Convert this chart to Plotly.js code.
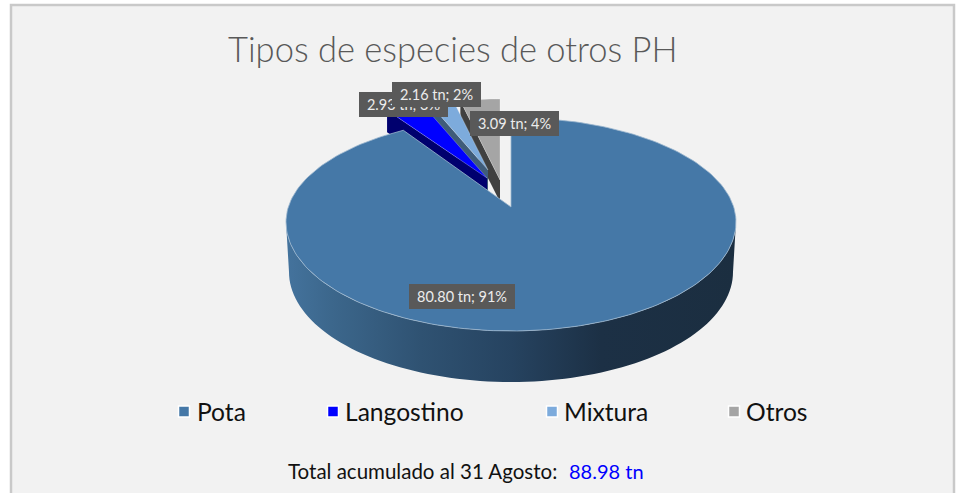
<!DOCTYPE html>
<html>
<head>
<meta charset="utf-8">
<script src="https://cdn.plot.ly/plotly-3.0.1.min.js"></script>
<style>html,body{margin:0;padding:0;background:#fff;overflow:hidden}#chart{width:957px;height:493px}</style>
</head>
<body>
<div id="chart"></div>
<script>
const categories = ['Pota', 'Langostino', 'Mixtura', 'Otros'];
const valuesTn = [80.80, 2.93, 2.16, 3.09];
const pctLabels = ['91%', '3%', '2%', '4%'];
const totalTn = 88.98;
const faceColors = ['#4578a7', '#0000ff', '#7dabdc', '#a5a5a5'];
const sideColors = ['#2b4a69', '#00006e', '#3f5c7a', '#404040'];

const FONT = 'Lato, "Open Sans", sans-serif';
const total = valuesTn.reduce((a, b) => a + b, 0);
const sweep = valuesTn.map(v => v / total * 360);
const rad = d => d * Math.PI / 180;

// exploded small slices: apex and perspective radii
const small = [null, {ax: 487, ay: 178}, {ax: 488, ay: 170}, {ax: 500, ay: 180}];
const smallRx = 183, smallRy = 81, smallDepth = 22;

const traces = [];
const xs = {xaxis: 'x', yaxis: 'y', hoverinfo: 'skip', showlegend: false};
function poly(px, py, fill, lineColor, lw) {
  traces.push(Object.assign({
    type: 'scatter', mode: lw ? 'lines' : 'none', x: px.concat(px[0]), y: py.concat(py[0]),
    fill: 'toself', fillcolor: fill, line: {color: lineColor || fill, width: lw || 0}
  }, xs));
}

// cumulative start angles, clockwise from 12 o'clock
const starts = [];
sweep.reduce((acc, s, i) => { starts[i] = acc; return acc + s; }, 0);

// small slices, back to front
[3, 2, 1].forEach(i => {
  const c = small[i], a0 = starts[i], a1 = a0 + sweep[i];
  const ox = c.ax + smallRx * Math.sin(rad(a0)), oy = c.ay - smallRy * Math.cos(rad(a0));
  poly([c.ax, c.ax, ox, ox], [c.ay, c.ay + smallDepth, oy + smallDepth, oy], sideColors[i]);
  const px = [c.ax], py = [c.ay];
  for (let k = 0; k <= 12; k++) {
    const a = a0 + (a1 - a0) * k / 12;
    px.push(c.ax + smallRx * Math.sin(rad(a)));
    py.push(c.ay - smallRy * Math.cos(rad(a)));
  }
  poly(px, py, faceColors[i], 'rgba(255,255,255,0.35)', 0.7);
});

// main slice geometry
const cx = 511, cy = 222, rx = 225, ryUp = 104.5, ryDown = 109;
const apexX = 511, apexY = 207;
const rimX = a => cx + rx * Math.sin(rad(a));
const rimY = a => cy - (Math.cos(rad(a)) > 0 ? ryUp : ryDown) * Math.cos(rad(a));

// side wall
const wallX = [], wallY = [];
for (let a = 90; a <= 270; a += 2) { wallX.push(rimX(a)); wallY.push(rimY(a)); }
for (let a = 270; a >= 90; a -= 2) {
  wallX.push(cx + 222 * Math.sin(rad(a)));
  wallY.push(272 - 110 * Math.cos(rad(a)));
}
traces.push(Object.assign({
  type: 'scatter', mode: 'none', x: wallX.concat(wallX[0]), y: wallY.concat(wallY[0]),
  fill: 'toself',
  fillgradient: {
    type: 'horizontal', start: 286, stop: 736,
    colorscale: [[0, '#44739d'], [0.1, '#3c678c'], [0.3, '#2f5272'], [0.5, '#264360'], [0.7, '#1c3045'], [1, '#1b2e40']]
  }
}, xs));

// Pota top face
const gapDeg = 4.5;
const potaEnd = sweep[0] + gapDeg;
const pX = [apexX], pY = [apexY];
for (let a = 0; a <= potaEnd; a += 1.5) { pX.push(rimX(a)); pY.push(rimY(a)); }
pX.push(rimX(potaEnd)); pY.push(rimY(potaEnd));
poly(pX, pY, faceColors[0], '#9db7cf', 0.8);

// legend swatches
const swatchX = [184, 333, 552, 734];
const legendTextX = [194.5, 342.5, 562, 744];
const legendY = 411.5;
traces.push(Object.assign({
  type: 'scatter', mode: 'markers', x: swatchX, y: swatchX.map(() => legendY),
  marker: {symbol: 'square', size: 11, color: faceColors, line: {color: '#ffffff', width: 1.5}}
}, xs));

// annotations
const labelBoxes = [
  {x: 462, y: 296.5, w: 106},
  {x: 403.5, y: 104.5, w: 89},
  {x: 436.5, y: 94, w: 89},
  {x: 514.5, y: 123.5, w: 89}
];
const annotations = [0, 1, 2, 3].map(i => ({
  x: labelBoxes[i].x, y: labelBoxes[i].y, xref: 'x', yref: 'y',
  text: valuesTn[i].toFixed(2) + ' tn; ' + pctLabels[i],
  showarrow: false, bgcolor: '#595959', width: labelBoxes[i].w, height: 25,
  borderpad: 0, borderwidth: 0, align: 'center', valign: 'middle',
  font: {family: FONT, size: 14.5, color: '#ececec'}
}));
categories.forEach((c, i) => annotations.push({
  x: legendTextX[i], y: legendY, xref: 'x', yref: 'y', xanchor: 'left', yanchor: 'middle',
  text: c, showarrow: false, font: {family: FONT, size: 24.6, color: '#111111'}
}));
annotations.push({
  x: 286, y: 470.5, xref: 'x', yref: 'y', xanchor: 'left', yanchor: 'middle', showarrow: false,
  text: 'Total acumulado al 31 Agosto:', font: {family: FONT, size: 20.5, color: '#111111'}
});
annotations.push({
  x: 567, y: 470.5, xref: 'x', yref: 'y', xanchor: 'left', yanchor: 'middle', showarrow: false,
  text: totalTn.toFixed(2) + ' tn', font: {family: FONT, size: 20, color: '#0000ff'}
});
annotations.push({
  x: 452.5, y: 48, xref: 'x', yref: 'y', xanchor: 'center', yanchor: 'middle', showarrow: false,
  text: 'Tipos de especies de otros PH', font: {family: FONT, size: 34.5, color: '#595959', weight: 300}
});

const layout = {
  width: 957, height: 493, margin: {l: 0, r: 0, t: 0, b: 0},
  paper_bgcolor: '#ffffff', plot_bgcolor: '#ffffff',
  xaxis: {range: [0, 957], visible: false, fixedrange: true},
  yaxis: {range: [493, 0], visible: false, fixedrange: true},
  showlegend: false, hovermode: false,
  shapes: [{type: 'rect', xref: 'x', yref: 'y', x0: 11, x1: 954, y0: 5, y1: 510,
    fillcolor: '#f2f2f2', line: {color: '#c9c9c9', width: 2.5}, layer: 'below'}],
  annotations
};
Plotly.newPlot('chart', traces, layout, {displayModeBar: false, staticPlot: true});
</script>
</body>
</html>
